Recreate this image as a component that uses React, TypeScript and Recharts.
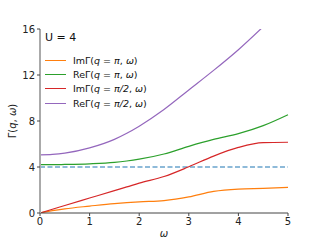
import React from "react";
import {
  LineChart,
  Line,
  XAxis,
  YAxis,
  ReferenceLine,
} from "recharts";

const omega = [0, 0.25, 0.5, 1, 1.5, 1.75, 2, 2.5, 3, 3.5, 4, 4.5, 5];
const imPi = [0, 0.2, 0.36, 0.6, 0.82, 0.9, 0.97, 1.08, 1.4, 1.88, 2.08, 2.14, 2.22];
const rePi = [4.2, 4.2, 4.22, 4.28, 4.4, 4.52, 4.68, 5.13, 5.8, 6.4, 6.9, 7.6, 8.55];
const imHalf = [0, 0.33, 0.65, 1.3, 1.95, 2.27, 2.6, 3.17, 4.02, 4.95, 5.7, 6.12, 6.15];
const reHalf = [5.05, 5.09, 5.2, 5.66, 6.4, 6.93, 7.55, 9.0, 10.7, 12.4, 14.2, 16.2, 18.3];

const xTicks = [0, 1, 2, 3, 4, 5];
const yTicks = [0, 4, 8, 12, 16];
const threshold = 4;

const series = [
  { key: "imPi", part: "Im", q: "π", color: "#ff7f0e" },
  { key: "rePi", part: "Re", q: "π", color: "#2ca02c" },
  { key: "imHalf", part: "Im", q: "π/2", color: "#d62728" },
  { key: "reHalf", part: "Re", q: "π/2", color: "#9467bd" },
];

const data = omega.map((w, i) => ({
  w,
  imPi: imPi[i],
  rePi: rePi[i],
  imHalf: imHalf[i],
  reHalf: reHalf[i],
}));

const font = "DejaVu Sans, sans-serif";
const tick = { fontSize: 10, fill: "#222", fontFamily: font };

const LegendBox = () => (
  <div style={{ position: "absolute", left: 45, top: 31, fontFamily: font, color: "#111" }}>
    <div style={{ fontSize: 11, marginBottom: 9, lineHeight: "13px" }}>U = 4</div>
    {series.map((s) => (
      <div
        key={s.key}
        style={{ display: "flex", alignItems: "center", height: 14.3, fontSize: 9.5 }}
      >
        <span
          style={{
            display: "inline-block",
            width: 21,
            height: 0,
            borderTop: `1.3px solid ${s.color}`,
            marginRight: 7,
          }}
        />
        <span>
          {s.part}Γ(<i>q</i> = <i>{s.q}</i>, <i>ω</i>)
        </span>
      </div>
    ))}
  </div>
);

const YLabel = (props: any) => {
  const { viewBox } = props;
  const cx = 12;
  const cy = viewBox.y + viewBox.height / 2;
  return (
    <text
      x={cx}
      y={cy}
      transform={`rotate(-90 ${cx} ${cy})`}
      textAnchor="middle"
      fontSize={10}
      fontFamily={font}
      fill="#222"
      dominantBaseline="central"
    >
      Γ(<tspan fontStyle="italic">q</tspan>, <tspan fontStyle="italic">ω</tspan>)
    </text>
  );
};

export default function App() {
  return (
    <div style={{ position: "fixed", left: 0, top: 0, width: 320, height: 240, background: "#fff" }}>
      <LineChart
        width={320}
        height={240}
        data={data}
        margin={{ top: 29, right: 32, left: 0, bottom: 0 }}
      >
        <XAxis
          dataKey="w"
          type="number"
          domain={[0, 5]}
          ticks={xTicks}
          tick={tick}
          tickSize={3}
          height={27}
          stroke="#444"
          tickLine={{ stroke: "#444" }}
          label={{ value: "ω", position: "insideBottom", offset: 3, fontSize: 10, fontStyle: "italic", fill: "#222", fontFamily: font }}
        />
        <XAxis
          xAxisId="top"
          orientation="top"
          dataKey="w"
          type="number"
          domain={[0, 5]}
          tick={false}
          tickLine={false}
          height={0}
          stroke="#999"
          strokeWidth={1.5}
        />
        <YAxis
          type="number"
          domain={[0, 16]}
          ticks={yTicks}
          allowDataOverflow
          tick={tick}
          tickSize={3}
          width={40}
          stroke="#aaa"
          strokeWidth={2}
          tickLine={{ stroke: "#444", strokeWidth: 1 }}
          label={<YLabel />}
        />
        <YAxis
          yAxisId="right"
          orientation="right"
          domain={[0, 16]}
          tick={false}
          tickLine={false}
          width={0}
          stroke="#aaa"
          strokeWidth={2}
        />
        <ReferenceLine y={threshold} stroke="#1f77b4" strokeWidth={1.2} strokeDasharray="5 2.5" />
        {series.map((s) => (
          <Line
            key={s.key}
            type="monotone"
            dataKey={s.key}
            stroke={s.color}
            strokeWidth={1.2}
            dot={false}
            isAnimationActive={false}
          />
        ))}
      </LineChart>
      <LegendBox />
    </div>
  );
}
